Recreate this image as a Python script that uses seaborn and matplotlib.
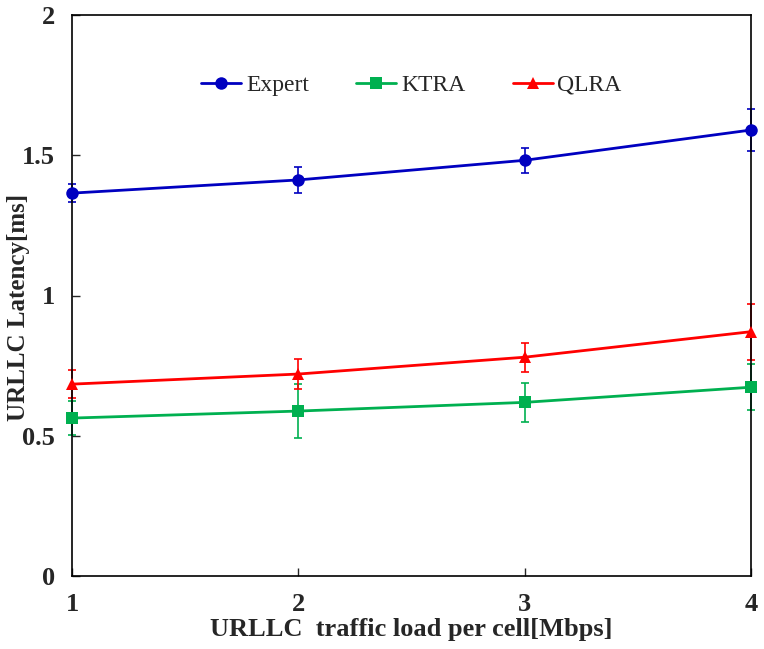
import pandas as pd
import seaborn as sns
import matplotlib.pyplot as plt

loads = [1, 2, 3, 4]
expert = [1.365, 1.412, 1.482, 1.590]
expert_err = [0.032, 0.045, 0.044, 0.074]
ktra = [0.563, 0.588, 0.619, 0.673]
ktra_err = [0.062, 0.095, 0.070, 0.082]
qlra = [0.684, 0.720, 0.780, 0.871]
qlra_err = [0.050, 0.052, 0.051, 0.100]

names = ['Expert', 'KTRA', 'QLRA']
colors = {'Expert': '#0000C0', 'KTRA': '#00B050', 'QLRA': '#FF0000'}
markers = {'Expert': 'o', 'KTRA': 's', 'QLRA': '^'}

df = pd.DataFrame({
    'load': loads * 3,
    'latency': expert + ktra + qlra,
    'err': expert_err + ktra_err + qlra_err,
    'method': [n for n in names for _ in loads],
})

sns.set_style('ticks')
plt.rcParams['font.family'] = ['Liberation Serif', 'DejaVu Serif']
plt.rcParams['xtick.direction'] = 'in'
plt.rcParams['ytick.direction'] = 'in'

fig = plt.figure(figsize=(7.64, 6.49), dpi=100)
ax = fig.add_axes([72 / 764, 1 - 576 / 649, 679 / 764, 561 / 649])

sns.lineplot(data=df, x='load', y='latency', hue='method', style='method',
             palette=colors, markers=markers, dashes=False, linewidth=2,
             markersize=9, markeredgewidth=0, ax=ax, legend=False,
             clip_on=False, zorder=3)

# error bars drawn after the lines, behind the markers
for name in names:
    sub = df[df['method'] == name]
    ax.errorbar(sub['load'], sub['latency'], yerr=sub['err'], fmt='none',
                ecolor=colors[name], elinewidth=1.2, capsize=3, capthick=1.2,
                clip_on=False, zorder=2)

handles = [plt.Line2D([], [], color=colors[n], marker=markers[n], lw=2,
                      ms=9, mew=0) for n in names]
ax.legend(handles, names, loc='center', bbox_to_anchor=(0.5, 0.875), ncol=3,
          frameon=False, fontsize=17, handlelength=1.7, handletextpad=0.2,
          columnspacing=2.0)

ax.set_xlim(1, 4)
ax.set_ylim(0, 2)
ax.set_xticks(loads)
ax.set_yticks([0, 0.5, 1, 1.5, 2])
ax.set_yticklabels(['0', '0.5', '1', '1.5', '2'])
for s in ax.spines.values():
    s.set_linewidth(1.2)
    s.set_color('black')
ax.tick_params(axis='both', length=6, width=1, labelsize=19, pad=12)
for lbl in ax.get_xticklabels() + ax.get_yticklabels():
    lbl.set_fontweight('bold')
ax.set_xlabel('URLLC  traffic load per cell[Mbps]', fontsize=19,
              fontweight='bold', labelpad=2)
ax.set_ylabel('URLLC Latency[ms]', fontsize=18, fontweight='bold')
ax.yaxis.set_label_coords(-0.062, 0.478)

fig.savefig('out.png', dpi=100)
